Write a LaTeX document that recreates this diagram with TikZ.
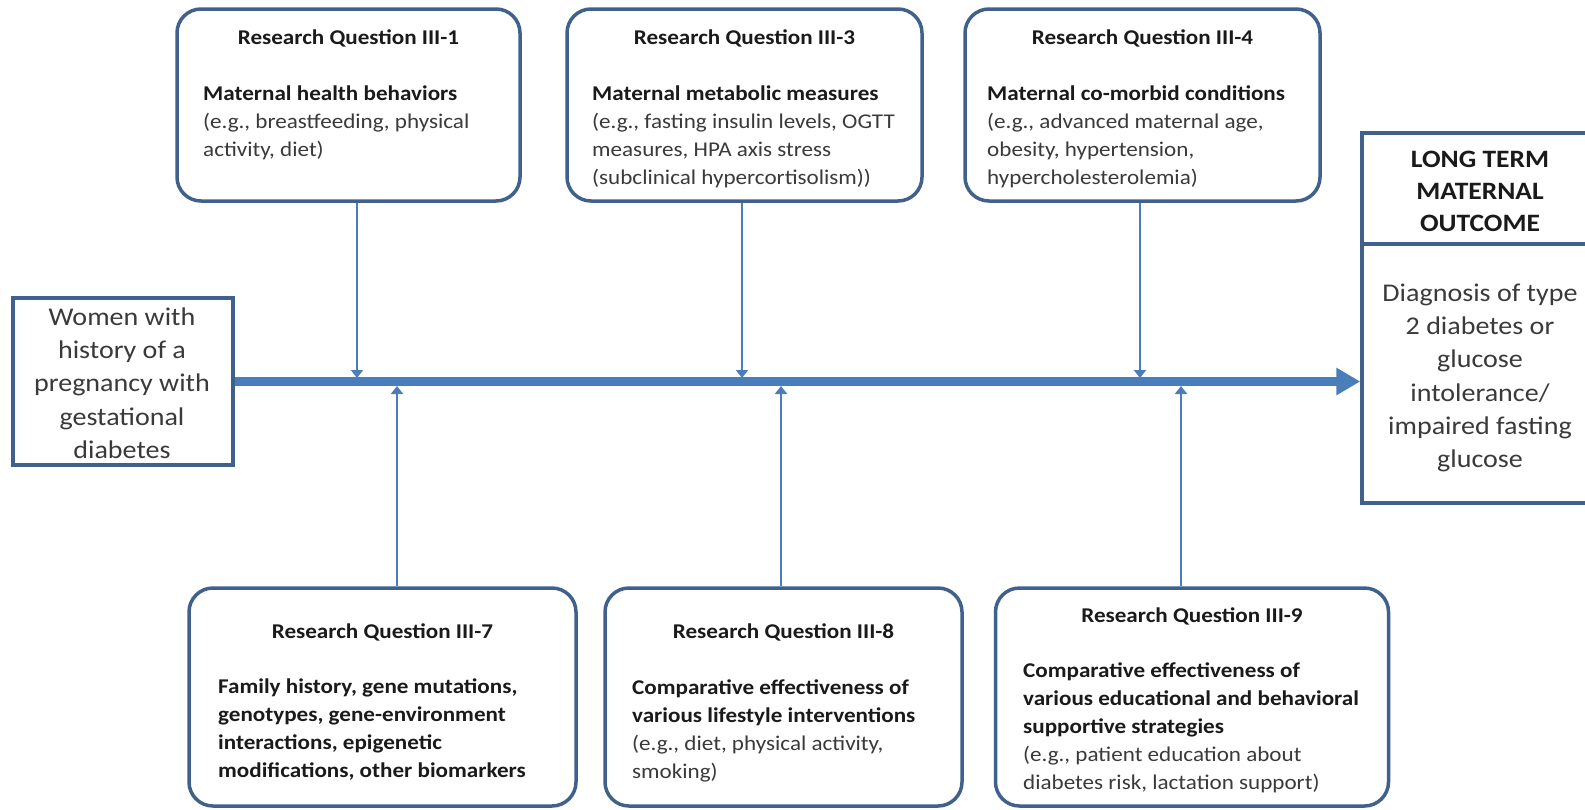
\documentclass[tikz,border=0pt]{standalone}
\usepackage{fontspec}
\setmainfont{Carlito}[FakeStretch=1.1]
\usetikzlibrary{arrows.meta}
\definecolor{boxline}{HTML}{41618D}
\definecolor{arrowblue}{HTML}{4A7EBB}
\definecolor{txtdark}{HTML}{1A1A1A}
\definecolor{txtgray}{HTML}{3A3A3A}
\tikzset{
  qbox/.style={draw=boxline, line width=3.5pt, rounded corners=24pt, fill=white, inner sep=0pt},
  plainbox/.style={draw=boxline, line width=3.5pt, fill=white, inner sep=0pt},
  qhead/.style={font=\fontsize{21pt}{25pt}\selectfont\bfseries, text=txtdark, inner sep=0pt, anchor=center},
  qbody/.style={font=\fontsize{21pt}{28pt}\selectfont, text=txtgray, inner sep=0pt, anchor=north west, align=left},
  bigtext/.style={font=\fontsize{25.5pt}{33.3pt}\selectfont, text=txtgray, inner sep=0pt, align=center},
  feeder/.style={draw=arrowblue, line width=2pt, -{Triangle[width=12pt,length=8pt]}},
  mainarrow/.style={draw=arrowblue, line width=9pt, -{Triangle[width=26pt,length=24pt]}}
}
\begin{document}
\begin{tikzpicture}[x=1pt,y=-1pt]
\useasboundingbox[fill=white] (0,0) rectangle (1585,809);

% source and outcome boxes
\node[plainbox, minimum width=220pt, minimum height=167pt] (src) at (123,381.5) {};
\node[bigtext] (srctxt) at (122,383) {Women with\\history of a\\pregnancy with\\gestational\\diabetes};

\node[plainbox, minimum width=240pt, minimum height=370pt] (out) at (1482,318) {};
\coordinate (divy) at (0,244);
\draw[boxline, line width=3.5pt] (out.west |- divy) -- (out.east |- divy);
\node[bigtext, font=\fontsize{25pt}{32pt}\selectfont\bfseries, text=txtdark] (outhead) at (1480,191) {LONG TERM\\MATERNAL\\OUTCOME};
\node[bigtext] (outbody) at (1480,378) {Diagnosis of type\\2 diabetes or\\glucose\\intolerance/\\impaired fasting\\glucose};

% upper research-question boxes
\node[qbox, minimum width=343pt, minimum height=192pt] (q1) at (348.5,105) {};
\node[qhead] (q1h) at (q1.center |- 0,38) {Research Question III-1};
\node[qbody] (q1b) at (203,86) {\textbf{\color{txtdark}Maternal health behaviors}\\(e.g., breastfeeding, physical\\activity, diet)};

\node[qbox, minimum width=355pt, minimum height=192pt] (q3) at (744.5,105) {};
\node[qhead] (q3h) at (q3.center |- 0,38) {Research Question III-3};
\node[qbody] (q3b) at (592,86) {\textbf{\color{txtdark}Maternal metabolic measures}\\(e.g., fasting insulin levels, OGTT\\measures, HPA axis stress\\(subclinical hypercortisolism))};

\node[qbox, minimum width=355pt, minimum height=192pt] (q4) at (1142.5,105) {};
\node[qhead] (q4h) at (q4.center |- 0,38) {Research Question III-4};
\node[qbody] (q4b) at (987,86) {\textbf{\color{txtdark}Maternal co-morbid conditions}\\(e.g., advanced maternal age,\\obesity, hypertension,\\hypercholesterolemia)};

% lower research-question boxes
\node[qbox, minimum width=387pt, minimum height=218pt] (q7) at (382.5,697) {};
\node[qhead] (q7h) at (q7.center |- 0,632) {Research Question III-7};
\node[qbody, font=\fontsize{21pt}{28pt}\selectfont\bfseries, text=txtdark] (q7b) at (218,679) {Family history, gene mutations,\\genotypes, gene-environment\\interactions, epigenetic\\modifications, other biomarkers};

\node[qbox, minimum width=357pt, minimum height=218pt] (q8) at (783.5,697) {};
\node[qhead] (q8h) at (q8.center |- 0,632) {Research Question III-8};
\node[qbody] (q8b) at (632,680) {\textbf{\color{txtdark}Comparative effectiveness of}\\\textbf{\color{txtdark}various lifestyle interventions}\\(e.g., diet, physical activity,\\smoking)};

\node[qbox, minimum width=393pt, minimum height=218pt] (q9) at (1192,697) {};
\node[qhead] (q9h) at (q9.center |- 0,616) {Research Question III-9};
\node[qbody] (q9b) at (1023,663) {\textbf{\color{txtdark}Comparative effectiveness of}\\\textbf{\color{txtdark}various educational and behavioral}\\\textbf{\color{txtdark}supportive strategies}\\(e.g., patient education about\\diabetes risk, lactation support)};

% main timeline arrow
\draw[mainarrow] (src.east) -- (src.east -| out.west);

% feeders from above
\coordinate (d1) at (357,378);
\coordinate (d3) at (742,378);
\coordinate (d4) at (1140,378);
\draw[feeder] (q1.south -| d1) -- (d1);
\draw[feeder] (q3.south -| d3) -- (d3);
\draw[feeder] (q4.south -| d4) -- (d4);

% feeders from below
\coordinate (u7) at (397,386);
\coordinate (u8) at (781,386);
\coordinate (u9) at (1181,386);
\draw[feeder] (q7.north -| u7) -- (u7);
\draw[feeder] (q8.north -| u8) -- (u8);
\draw[feeder] (q9.north -| u9) -- (u9);
\end{tikzpicture}
\end{document}
